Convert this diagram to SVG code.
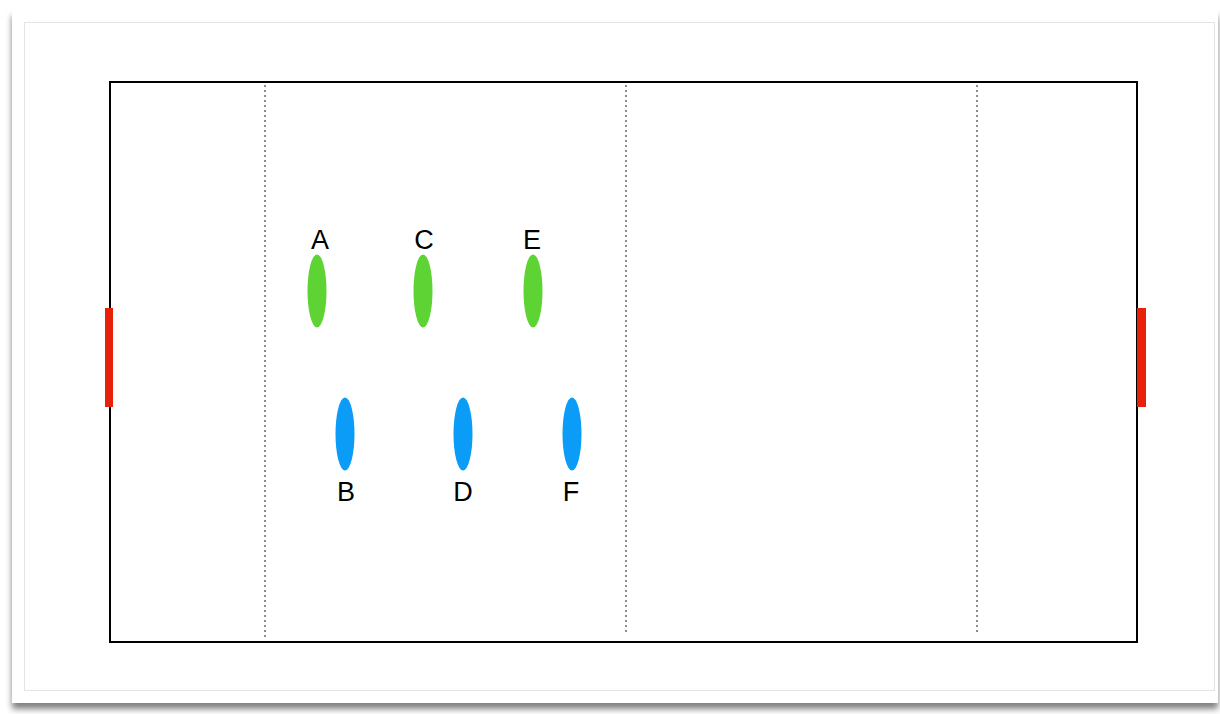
<svg xmlns="http://www.w3.org/2000/svg" width="1220" height="714" viewBox="0 0 1220 714">
  <defs>
    <filter id="cardShadow" x="-5%" y="-5%" width="110%" height="115%">
      <feGaussianBlur in="SourceAlpha" stdDeviation="3"/>
      <feOffset dx="0" dy="6" result="b"/>
      <feComponentTransfer><feFuncA type="linear" slope="0.5"/></feComponentTransfer>
      <feMerge><feMergeNode/><feMergeNode in="SourceGraphic"/></feMerge>
    </filter>
  </defs>
  <style>
    .field { fill: #ffffff; stroke: #000000; stroke-width: 2; }
    .zone { stroke: #1a1a1a; stroke-width: 1; stroke-dasharray: 2 3; }
    .goal { fill: #e8210b; }
    .green { fill: #5ed434; }
    .blue { fill: #0a9cf7; }
    .label { font-family: "Liberation Sans", Arial, sans-serif; font-size: 27px; fill: #000000; text-anchor: middle; }
  </style>
  <rect width="1220" height="714" fill="#ffffff"/>
  <!-- sheet -->
  <rect x="12" y="10" width="1206" height="693" fill="#ffffff" filter="url(#cardShadow)"/>
  <rect x="24.5" y="22.5" width="1190" height="668" fill="none" stroke="#e4e4e4" stroke-width="1"/>

  <!-- pitch -->
  <rect class="field" x="110" y="82" width="1027" height="560"/>
  <g id="zones">
    <line class="zone" x1="265" y1="85" x2="265" y2="638"/>
    <line class="zone" x1="626" y1="85" x2="626" y2="634"/>
    <line class="zone" x1="977" y1="85" x2="977" y2="634"/>
  </g>
  <g id="goals">
    <rect class="goal" x="105" y="308" width="8" height="99"/>
    <rect class="goal" x="1137" y="308" width="9" height="99"/>
  </g>

  <g id="player-A"><ellipse class="green" cx="317" cy="291" rx="9.5" ry="36.5"/><text class="label" x="320" y="249">A</text></g>
  <g id="player-C"><ellipse class="green" cx="423" cy="291" rx="9.5" ry="36.5"/><text class="label" x="424" y="249">C</text></g>
  <g id="player-E"><ellipse class="green" cx="533" cy="291" rx="9.5" ry="36.5"/><text class="label" x="532" y="249">E</text></g>
  <g id="player-B"><ellipse class="blue" cx="345" cy="434" rx="9.5" ry="36.5"/><text class="label" x="346" y="501">B</text></g>
  <g id="player-D"><ellipse class="blue" cx="463" cy="434" rx="9.5" ry="36.5"/><text class="label" x="463" y="501">D</text></g>
  <g id="player-F"><ellipse class="blue" cx="572" cy="434" rx="9.5" ry="36.5"/><text class="label" x="571" y="501">F</text></g>
</svg>
